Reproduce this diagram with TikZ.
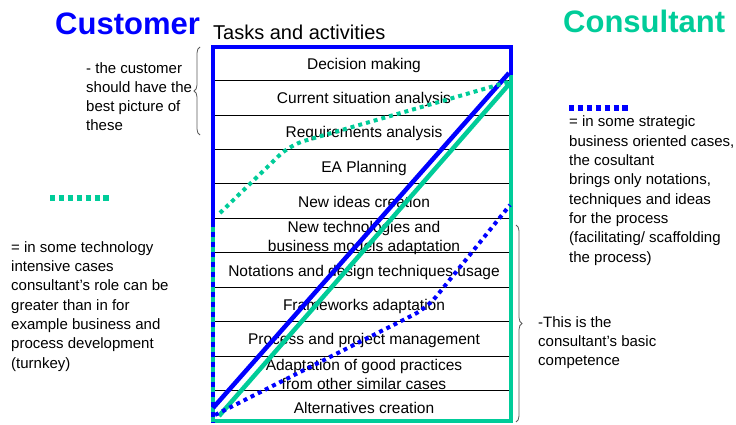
\documentclass[tikz,border=0pt]{standalone}
\usepackage{fontspec}
\setmainfont{Liberation Sans}
\usetikzlibrary{decorations.pathreplacing}
\definecolor{custblue}{RGB}{0,0,255}
\definecolor{consgreen}{RGB}{0,204,153}
\definecolor{bracegray}{RGB}{90,90,90}
\tikzset{
	rowtext/.style={anchor=base,inner sep=0pt,align=center,font=\fontsize{15.5}{19}\selectfont},
	sidetext/.style={anchor=base west,inner sep=0pt,align=left,font=\fontsize{15}{19.3}\selectfont},
	bigtitle/.style={anchor=base west,inner sep=0pt,font=\fontsize{31}{36}\selectfont\bfseries},
	thickline/.style={line width=4.5pt},
	dots/.style={line width=4pt,dash pattern=on 4pt off 4pt},
	legenddots/.style={line width=5.5pt,dash pattern=on 5.3pt off 3.6pt},
	grbrace/.style={bracegray,line width=0.8pt,decorate,decoration={brace,amplitude=6pt}}
}
\begin{document}
\begin{tikzpicture}[x=1pt,y=-1pt]
	\useasboundingbox (0,0) rectangle (736,425);
	\node[bigtitle,custblue] (customer) at (55,35) {Customer};
	\node[bigtitle,consgreen] (consultant) at (563,33) {Consultant};
	\node[anchor=base west,inner sep=0pt,font=\fontsize{20}{24}\selectfont] (tasks) at (213,40) {Tasks and activities};
	\draw[thin] (213,80) -- (513,80);
	\draw[thin] (213,115) -- (511,115);
	\draw[thin] (213,149) -- (511,149);
	\draw[thin] (213,183) -- (511,183);
	\draw[thin] (213,218) -- (511,218);
	\draw[thin] (213,252) -- (511,252);
	\draw[thin] (213,287) -- (511,287);
	\draw[thin] (213,321) -- (511,321);
	\draw[thin] (213,356) -- (511,356);
	\draw[thin] (212,390) rectangle (511,422);
	\node[rowtext] (decision) at (364,70) {Decision making};
	\node[rowtext] (current) at (364,104) {Current situation analysis};
	\node[rowtext] (require) at (364,138) {Requirements analysis};
	\node[rowtext] (eaplan) at (364,172) {EA Planning};
	\node[rowtext] (newideas) at (364,207) {New ideas creation};
	\node[rowtext] (newtech) at (364,251) {New technologies and\\business models adaptation};
	\node[rowtext] (notation) at (364,276) {Notations and design techniques usage};
	\node[rowtext] (framework) at (364,310) {Frameworks adaptation};
	\node[rowtext] (process) at (364,344) {Process and project management};
	\node[rowtext] (goodprac) at (364,389) {Adaptation of good practices\\from other similar cases};
	\node[rowtext] (altern) at (364,413) {Alternatives creation};
	\node[sidetext] (bestpic) at (86,131) {- the customer\\should have the\\best picture of\\these};
	\node[sidetext] (techcase) at (11,368) {= in some technology\\intensive cases\\consultant’s role can be\\greater than in for\\example business and\\process development\\(turnkey)};
	\node[sidetext] (stratcase) at (569,262) {= in some strategic\\business oriented cases,\\the cosultant\\brings only notations,\\techniques and ideas\\for the process\\(facilitating/ scaffolding\\the process)};
	\node[sidetext] (basic) at (538,365.6) {-This is the\\consultant’s basic\\competence};
	\draw[consgreen,thickline] (211,421) -- (513,421);
	\draw[consgreen,thickline] (511,75) -- (511,423);
	\draw[consgreen,thickline] (213,220) -- (213,423);
	\draw[custblue,thickline,dash pattern=on 5pt off 5pt] (213,222) -- (213,423);
	\draw[custblue,thickline] (213,222) -- (213,47) -- (511,47) -- (511,75);
	\draw[custblue,thickline] (213,408) -- (509,73);
	\draw[consgreen,thickline] (219,416) -- (511,82);
	\draw[consgreen,dots,rounded corners=15pt] (220,213) -- (290,145) -- (508,82);
	\draw[custblue,dots,rounded corners=15pt] (215,415) -- (427,308) -- (510,205);
	\draw[consgreen,legenddots] (50,198) -- (112,198);
	\draw[custblue,legenddots] (569,108) -- (631,108);
	\draw[grbrace] (200,135) -- (200,47);
	\draw[grbrace] (516,225) -- (516,422);
\end{tikzpicture}
\end{document}
